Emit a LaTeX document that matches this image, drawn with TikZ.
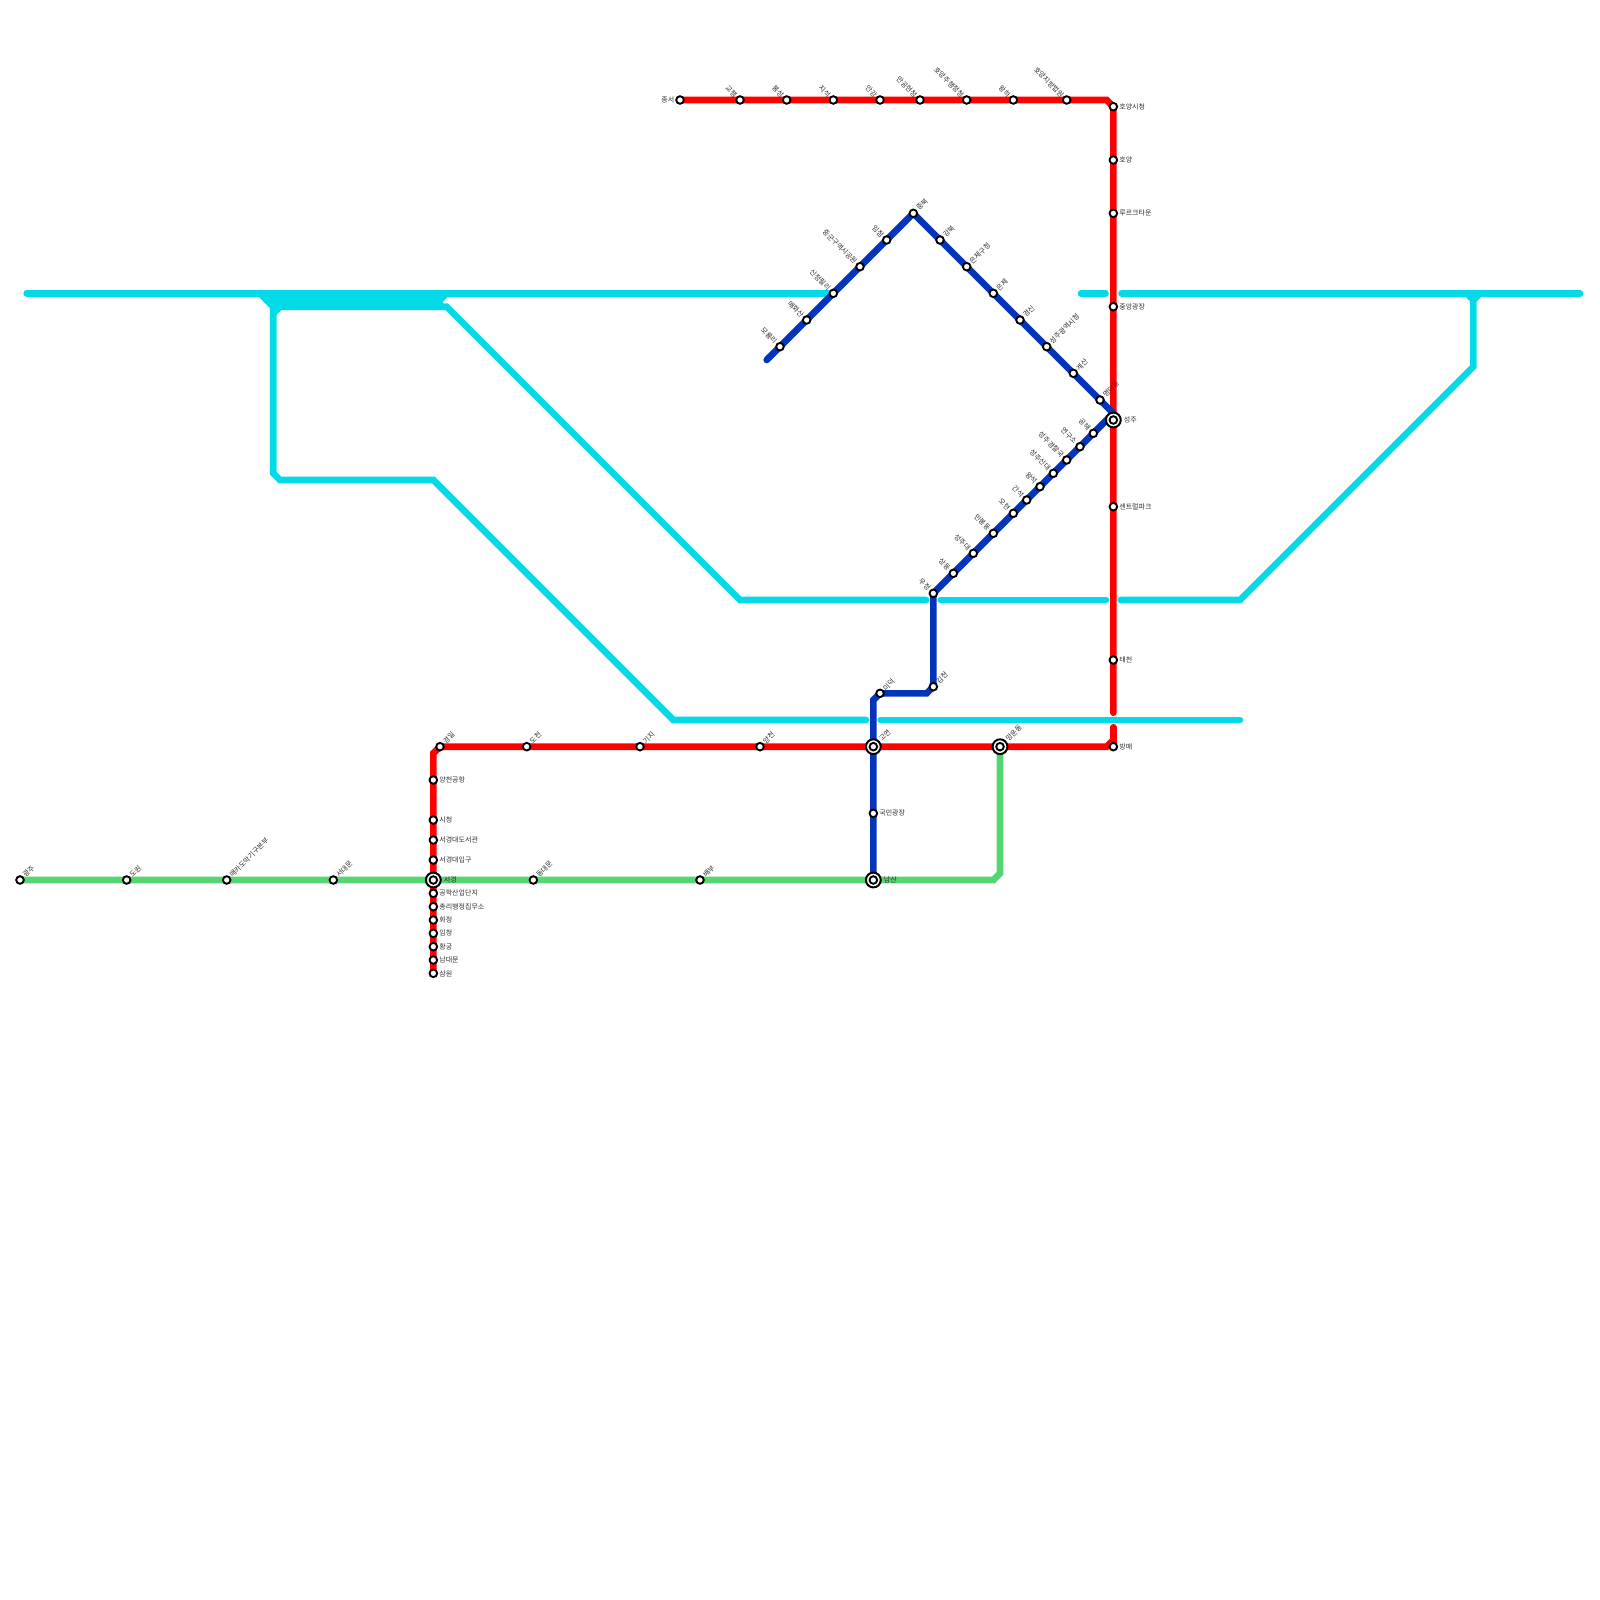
\documentclass[tikz,border=0pt]{standalone}
\usepackage{fontspec}
\setmainfont{Noto Sans CJK KR}
\definecolor{cy}{HTML}{04D9E8}
\definecolor{rd}{HTML}{FF0000}
\definecolor{bl}{HTML}{0433BC}
\definecolor{gr}{HTML}{55D672}
\definecolor{tx}{HTML}{2E2E2E}
\tikzset{
  metro/.style={line width=6.67pt,line cap=round,line join=miter},
  stn/.style={circle,draw=black,fill=white,line width=1.9pt,inner sep=0pt,minimum size=7.6pt},
  hubo/.style={circle,draw=black,fill=white,line width=2pt,inner sep=0pt,minimum size=14.8pt},
  lbl/.style={inner sep=0pt,text=tx,font=\fontsize{7}{7}\selectfont},
}
% id, x, y, label: placement variants
\newcommand{\sR}[3]{\node[stn] (#1) at (#2) {};\node[lbl,anchor=west] (l#1) at ([xshift=5.8pt]#2) {#3};}
\newcommand{\sL}[3]{\node[stn] (#1) at (#2) {};\node[lbl,anchor=east] (l#1) at ([xshift=-5.5pt]#2) {#3};}
\newcommand{\sUR}[3]{\node[stn] (#1) at (#2) {};\node[lbl,anchor=west,rotate=45] (l#1) at ([xshift=4pt,yshift=4pt]#2) {#3};}
\newcommand{\sUL}[3]{\node[stn] (#1) at (#2) {};\node[lbl,anchor=east,rotate=-45] (l#1) at ([xshift=-4pt,yshift=4pt]#2) {#3};}
\newcommand{\hR}[3]{\node[hubo] (o#1) at (#2) {};\node[stn] (#1) at (#2) {};\node[lbl,anchor=west] (l#1) at ([xshift=10.3pt]#2) {#3};}
\newcommand{\hUR}[3]{\node[hubo] (o#1) at (#2) {};\node[stn] (#1) at (#2) {};\node[lbl,anchor=west,rotate=45] (l#1) at ([xshift=6.8pt,yshift=6.8pt]#2) {#3};}
\begin{document}
\begin{tikzpicture}[x=1pt,y=-1pt]
\useasboundingbox (0,0) rectangle (1600,1600);
% ---------- cyan way-points
\coordinate (ca) at (26.67,293.33);
\coordinate (cb) at (833.33,293.33);
\coordinate (cc) at (1081,293.33);
\coordinate (cd) at (1105.5,293.33);
\coordinate (ce) at (1121.5,293.33);
\coordinate (cf) at (1580,293.33);
\coordinate (cg) at (260,293.33);
\coordinate (ch) at (273.33,306.67);
\coordinate (ci) at (273.33,473.33);
\coordinate (cj) at (280,480);
\coordinate (ck) at (433.33,480);
\coordinate (cl) at (673.33,720);
\coordinate (cm) at (866,720);
\coordinate (cn) at (880.67,720);
\coordinate (co) at (1240,720);
\coordinate (cp) at (266.67,300);
\coordinate (cq) at (440,300);
\coordinate (cr) at (446.67,293.33);
\coordinate (cs) at (446.67,306.67);
\coordinate (ct) at (740,600);
\coordinate (cu) at (926,600);
\coordinate (cv) at (940.67,600);
\coordinate (cw) at (1106,600);
\coordinate (cx) at (1120.67,600);
\coordinate (cy1) at (1240,600);
\coordinate (cz) at (1473.33,366.67);
\coordinate (da) at (1473.33,300);
\coordinate (db) at (1466.67,293.33);
\coordinate (dc) at (1480,293.33);
\coordinate (dd) at (280,306.67);
\coordinate (de) at (273.33,313.33);
\coordinate (df) at (266,296.67);
\coordinate (dg) at (440,296.67);
\coordinate (dh) at (272,303.33);
\coordinate (di) at (440,303.33);
% ---------- line way-points
\coordinate (g0) at (20,880);
\coordinate (g7) at (993.33,880);
\coordinate (g8) at (1000,873.33);
\coordinate (g9) at (1000,746.67);
\coordinate (r0) at (680,100);
\coordinate (r1) at (1106.67,100);
\coordinate (r2) at (1113.33,106.67);
\coordinate (r3) at (1113.33,712.7);
\coordinate (r4) at (1113.33,727.3);
\coordinate (r5) at (1113.33,746.67);
\coordinate (r6) at (1113.33,740);
\coordinate (r7) at (1106.67,746.67);
\coordinate (r8) at (440,746.67);
\coordinate (r9) at (433.33,753.33);
\coordinate (r10) at (433.33,973.33);
\coordinate (b0) at (766.67,360);
\coordinate (b1) at (913.33,213.33);
\coordinate (b2) at (1113.33,413.33);
\coordinate (b3) at (933.33,593.33);
\coordinate (b4) at (933.33,686.67);
\coordinate (b5) at (926.67,693.33);
\coordinate (b6) at (880,693.33);
\coordinate (b7) at (873.33,700);
\coordinate (b8) at (873.33,880);
% ---------- lines
\draw[metro,cy] (ca) -- (cb);
\draw[metro,cy] (cc) -- (cd);
\draw[metro,cy] (ce) -- (cf);
\draw[metro,cy] (cg) -- (ch) -- (ci) -- (cj) -- (ck) -- (cl) -- (cm);
\draw[metro,cy] (cn) -- (co);
\draw[metro,cy] (df) -- (dg);
\draw[metro,cy] (cp) -- (cq) -- (cr);
\draw[metro,cy] (dh) -- (di);
\draw[metro,cy] (ch) -- (cs) -- (ct) -- (cu);
\draw[metro,cy] (cv) -- (cw);
\draw[metro,cy] (cx) -- (cy1) -- (cz) -- (da) -- (db);
\draw[metro,cy] (da) -- (dc);
\draw[metro,cy] (dd) -- (de);
\draw[metro,gr] (g0) -- (g7) -- (g8) -- (g9);
\draw[metro,rd] (r0) -- (r1) -- (r2) -- (r3);
\draw[metro,rd] (r4) -- (r5);
\draw[metro,rd] (r6) -- (r7) -- (r8) -- (r9) -- (r10);
\draw[metro,bl] (b0) -- (b1) -- (b2) -- (b3) -- (b4) -- (b5) -- (b6) -- (b7) -- (b8);
% ---------- red stations
\sL{a1}{680,100}{종서}
\sUL{a2}{740,100}{교행}
\sUL{a3}{786.67,100}{봉성}
\sUL{a4}{833.33,100}{지석}
\sUL{a5}{880,100}{안강}
\sUL{a6}{920,100}{만공현청}
\sUL{a7}{966.67,100}{호양주행정청}
\sUL{a8}{1013.33,100}{왕하}
\sUL{a9}{1066.67,100}{호양지방법원}
\sR{a10}{1113.33,106.67}{호양시청}
\sR{a11}{1113.33,160}{호양}
\sR{a12}{1113.33,213.33}{루르크타운}
\sR{a13}{1113.33,306.67}{중앙광장}
\sR{a15}{1113.33,506.67}{센트럴파크}
\sR{a16}{1113.33,660}{태천}
\sR{a17}{1113.33,746.67}{방매}
\sUR{a18}{760,746.67}{양천}
\sUR{a19}{640,746.67}{기지}
\sUR{a20}{526.67,746.67}{도천}
\sUR{a21}{440,746.67}{경일}
\sR{a22}{433.33,780}{양천공항}
\sR{a23}{433.33,820}{시청}
\sR{a24}{433.33,840}{서경대도서관}
\sR{a25}{433.33,860}{서경대입구}
\sR{a26}{433.33,893.33}{공학산업단지}
\sR{a27}{433.33,906.67}{총리행정집무소}
\sR{a28}{433.33,920}{화정}
\sR{a29}{433.33,933.33}{임청}
\sR{a30}{433.33,946.67}{황궁}
\sR{a31}{433.33,960}{남대문}
\sR{a32}{433.33,973.33}{삼원}
% ---------- green stations
\sUR{c1}{20,880}{광주}
\sUR{c2}{126.67,880}{도원}
\sUR{c3}{226.67,880}{매카도막기구본부}
\sUR{c4}{333.33,880}{서대문}
\sUR{c5}{533.33,880}{동대문}
\sUR{c6}{700,880}{배부}
% ---------- blue stations
\sUL{d1}{780,346.67}{모룡리}
\sUL{d2}{806.67,320}{매화산}
\sUL{d3}{833.33,293.33}{신정필리}
\sUL{d4}{860,266.67}{중군구역시공원}
\sUL{d5}{886.67,240}{임점}
\sUR{d6}{913.33,213.33}{중북}
\sUR{d7}{940,240}{강북}
\sUR{d8}{966.67,266.67}{은제구청}
\sUR{d9}{993.33,293.33}{은제}
\sUR{d10}{1020,320}{경신}
\sUR{d11}{1046.67,346.67}{성주광역시청}
\sUR{d12}{1073.33,373.33}{계산}
\sUR{d13}{1100,400}{명덕동}
\sUL{d14}{1093.33,433.33}{공해}
\sUL{d15}{1080,446.67}{연구소}
\sUL{d16}{1066.67,460}{성주경찰국}
\sUL{d17}{1053.33,473.33}{성주신대}
\sUL{d18}{1040,486.67}{왕석}
\sUL{d19}{1026.67,500}{간석}
\sUL{d20}{1013.33,513.33}{오현}
\sUL{d21}{993.33,533.33}{민봉동}
\sUL{d22}{973.33,553.33}{성주대}
\sUL{d23}{953.33,573.33}{상동}
\sUL{d24}{933.33,593.33}{우정}
\sUR{d25}{933.33,686.67}{김천}
\sUR{d26}{880,693.33}{미덕}
\sR{d27}{873.33,813.33}{국민광장}
% ---------- interchanges
\hR{h1}{1113.33,420}{성주}
\hUR{h2}{873.33,746.67}{고연}
\hUR{h3}{1000,746.67}{망운동}
\hR{h4}{433.33,880}{서경}
\hR{h5}{873.33,880}{남산}
\end{tikzpicture}
\end{document}
